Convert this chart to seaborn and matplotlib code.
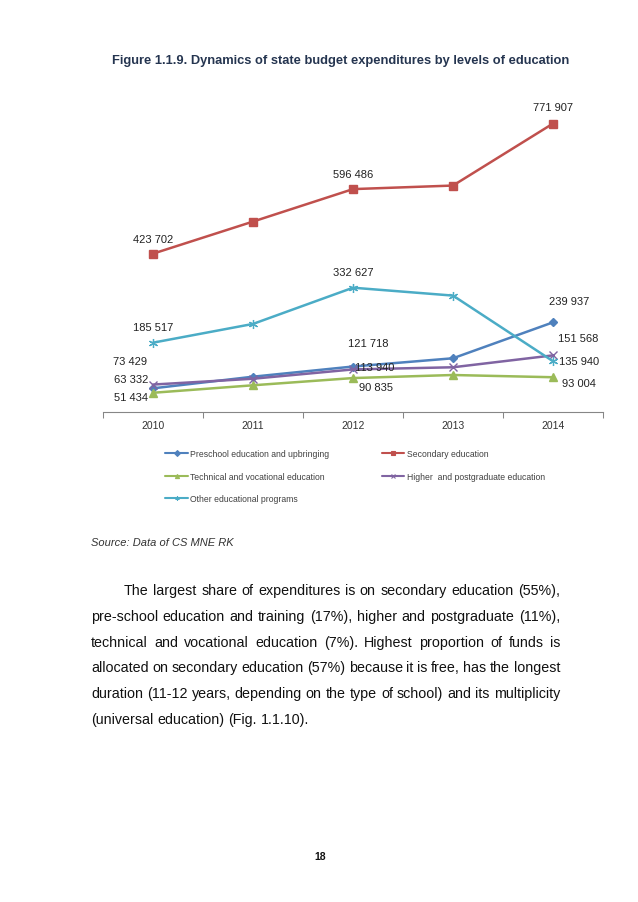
import matplotlib
matplotlib.use("Agg")
import matplotlib.pyplot as plt
import seaborn as sns
import pandas as pd

# values (thousand tenge)
years = [2010, 2011, 2012, 2013, 2014]
preschool = [63332, 94500, 121718, 143800, 239937]
secondary = [423702, 509600, 596486, 606000, 771907]
technical = [51434, 71500, 90835, 99000, 93004]
higher = [73429, 89000, 113940, 119700, 151568]
other = [185517, 235700, 332627, 311500, 135940]

names = ["Preschool education and upbringing", "Secondary education",
         "Technical and vocational education", "Higher  and postgraduate education",
         "Other educational programs"]
labelled_years = [2010, 2012, 2014]

title = "Figure 1.1.9. Dynamics of state budget expenditures by levels of education"
source = "Source: Data of CS MNE RK"
body = [
    "The largest share of expenditures is on secondary education (55%),",
    "pre-school education and training (17%), higher and postgraduate (11%),",
    "technical and vocational education (7%). Highest proportion of funds is",
    "allocated on secondary education (57%) because it is free, has the longest",
    "duration (11-12 years, depending on the type of school) and its multiplicity",
    "(universal education) (Fig. 1.1.10).",
]

df = pd.DataFrame({"year": years * 5,
                   "value": preschool + secondary + technical + higher + other,
                   "series": [n for n in names for _ in years]})

sns.set_style("white")
plt.rcParams["font.family"] = ["Liberation Sans", "DejaVu Sans"]

W, H = 638, 903
fig = plt.figure(figsize=(W / 100, H / 100), dpi=100)
ax = fig.add_axes([103 / W, 1 - 413 / H, 500 / W, 318 / H])

colors = ["#4F81BD", "#C0504D", "#9BBB59", "#8064A2", "#4BACC6"]
markers = ["D", "s", "^", "x", (6, 2, 0)]
msizes = [4.5, 5.5, 5.5, 5.5, 6.5]
mews = [1, 1, 1, 1, 0.9]

# label offsets in pixels (dx, dy) for the 2010, 2012, 2014 points
offsets = [
    [(-22, 9), (15, 24), (16, 21)],
    [(0, 15), (0, 15), (0, 17)],
    [(-22, -4), (23, -9), (26, -6)],
    [(-23, 24), (22, 2), (25, 17)],
    [(0, 16), (0, 16), (26, 0)],
]

handles = []
for i, name in enumerate(names):
    sub = df[df["series"] == name]
    sns.lineplot(data=sub, x="year", y="value", ax=ax, color=colors[i],
                 marker=markers[i], markersize=msizes[i], markeredgecolor=colors[i],
                 markeredgewidth=mews[i], linewidth=1.8, legend=False)
    for (yr, (dx, dy)) in zip(labelled_years, offsets[i]):
        v = sub.loc[sub["year"] == yr, "value"].iloc[0]
        ax.annotate(f"{v:,}".replace(",", " "), (yr, v), xytext=(dx, dy),
                    textcoords="offset pixels", ha="center", va="center",
                    fontsize=8, color="#222222")
    handles.append(plt.Line2D([], [], color=colors[i], marker=markers[i],
                              markersize=3, markeredgewidth=0.8, linewidth=1.5,
                              label=name))

ax.set_xlim(2009.5, 2014.5)
ax.set_ylim(0, 851000)
ax.set_xlabel("")
ax.set_ylabel("")
ax.set_yticks([])
ax.set_xticks(years)
ax.set_xticks([2009.5 + k for k in range(6)], minor=True)
ax.tick_params(axis="x", which="major", length=0, labelsize=7.5,
               labelcolor="#333333", pad=5.5)
ax.tick_params(axis="x", which="minor", length=4, width=0.75, color="#868686",
               direction="out", bottom=True)
sns.despine(ax=ax, left=True)
ax.spines["bottom"].set_color("#868686")
ax.spines["bottom"].set_linewidth(0.8)

order = [0, 2, 4, 1, 3]
fig.legend([handles[k] for k in order], [names[k] for k in order], ncol=2,
           loc="upper left", bbox_to_anchor=(161 / W, 1 - 446 / H),
           frameon=False, fontsize=6.2, labelcolor="#404040", borderpad=0,
           handlelength=2.6, handletextpad=0.3, labelspacing=1.55,
           columnspacing=6.1)

fig.text(341 / W, 1 - 61 / H, title, ha="center", va="center",
         fontsize=9.3, fontweight="bold", color="#253550")
fig.text(91 / W, 1 - 543 / H, source, ha="left", va="center",
         fontsize=8, style="italic", color="#333333")
fig.text(320 / W, 1 - 857 / H, "18", ha="center", va="center",
         fontsize=7.5, fontweight="bold", color="#111111")

# justified body paragraph
renderer = fig.canvas.get_renderer()
baselines = [595, 620.8, 646.6, 672.4, 698.2, 724]
fs = 10.3
for n, line in enumerate(body):
    x0 = 124 if n == 0 else 91
    x1 = 560
    words = line.split(" ")
    texts = [fig.text(0, 1 - baselines[n] / H, w, fontsize=fs, va="baseline",
                      color="#111111") for w in words]
    widths = [t.get_window_extent(renderer).width for t in texts]
    if n == len(body) - 1:
        t2 = fig.text(0, 0, "a a", fontsize=fs)
        t1 = fig.text(0, 0, "aa", fontsize=fs)
        gap = t2.get_window_extent(renderer).width - t1.get_window_extent(renderer).width
        t2.remove()
        t1.remove()
    else:
        gap = (x1 - x0 - sum(widths)) / (len(words) - 1)
    x = x0
    for t, w in zip(texts, widths):
        t.set_x(x / W)
        x += w + gap

fig.savefig("out.png", dpi=100)
